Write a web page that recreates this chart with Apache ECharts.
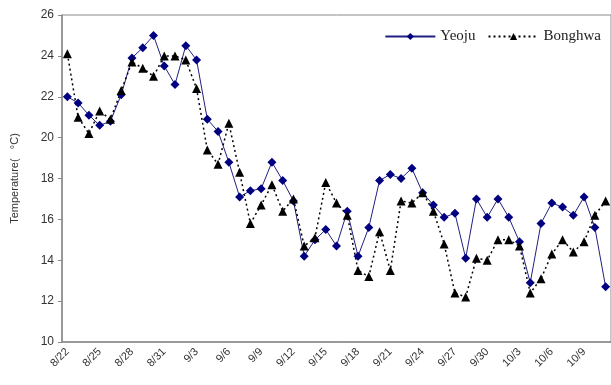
<!DOCTYPE html>
<html><head><meta charset="utf-8">
<script src="https://cdn.jsdelivr.net/npm/echarts@6/dist/echarts.min.js"></script>
<style>html,body{margin:0;padding:0;background:#fff}#c{width:611px;height:385px}</style>
</head><body><div id="c"></div>
<script>
const dates = ["8/22","8/23","8/24","8/25","8/26","8/27","8/28","8/29","8/30","8/31",
"9/1","9/2","9/3","9/4","9/5","9/6","9/7","9/8","9/9","9/10","9/11","9/12","9/13","9/14","9/15",
"9/16","9/17","9/18","9/19","9/20","9/21","9/22","9/23","9/24","9/25","9/26","9/27","9/28","9/29","9/30",
"10/1","10/2","10/3","10/4","10/5","10/6","10/7","10/8","10/9","10/10","10/11"];
const yeoju = [22.0,21.7,21.1,20.6,20.8,22.1,23.9,24.4,25.0,23.5,
22.6,24.5,23.8,20.9,20.3,18.8,17.1,17.4,17.5,18.8,17.9,16.9,14.2,15.0,15.5,
14.7,16.4,14.2,15.6,17.9,18.2,18.0,18.5,17.3,16.7,16.1,16.3,14.1,17.0,16.1,
17.0,16.1,14.9,12.9,15.8,16.8,16.6,16.2,17.1,15.6,12.7];
const bonghwa = [24.1,21.0,20.2,21.3,20.9,22.3,23.7,23.4,23.0,24.0,
24.0,23.8,22.4,19.4,18.7,20.7,18.3,15.8,16.7,17.7,16.4,17.0,14.7,15.1,17.8,
16.8,16.2,13.5,13.2,15.4,13.5,16.9,16.8,17.3,16.4,14.8,12.4,12.2,14.1,14.0,
15.0,15.0,14.7,12.4,13.1,14.3,15.0,14.4,14.9,16.2,16.9];
const yTicks = {min:10, max:26, step:2};

const chart = echarts.init(document.getElementById('c'), null, {renderer:'canvas'});
chart.setOption({
  animation:false,
  backgroundColor:'#fff',
  grid:{left:62, top:15, right:-3, bottom:43, show:true, borderColor:'#8a8a8a', borderWidth:1, backgroundColor:'transparent'},
  legend:{
    top:24, right:5, itemWidth:50, itemHeight:9, itemGap:12,
    textStyle:{fontFamily:'Liberation Serif', fontSize:15, color:'#222'},
    data:['Yeoju','Bonghwa']
  },
  xAxis:{
    type:'category', data:dates, boundaryGap:true,
    axisLine:{lineStyle:{color:'#8a8a8a', width:1.5}},
    axisTick:{inside:true, length:4, interval:0, lineStyle:{color:'#8a8a8a'}},
    axisLabel:{interval:2, rotate:45, fontFamily:'Liberation Sans', fontSize:11, color:'#333', margin:8}
  },
  yAxis:{
    type:'value', min:yTicks.min, max:yTicks.max, interval:yTicks.step,
    name:'Temperature(   \u00B0C)', nameLocation:'middle', nameGap:42,
    nameTextStyle:{fontFamily:'Liberation Sans', fontSize:11, color:'#333'},
    axisLine:{show:true, lineStyle:{color:'#8a8a8a', width:1.5}},
    axisTick:{show:true, length:4, lineStyle:{color:'#8a8a8a'}},
    splitLine:{show:false},
    axisLabel:{fontFamily:'Liberation Sans', fontSize:12, color:'#333', margin:8}
  },
  series:[
    {name:'Yeoju', type:'line', data:yeoju, symbol:'diamond', symbolSize:9, showAllSymbol:true,
     itemStyle:{color:'#000080'}, lineStyle:{color:'#202080', width:1}},
    {name:'Bonghwa', type:'line', data:bonghwa, symbol:'triangle', symbolSize:9, showAllSymbol:true,
     itemStyle:{color:'#000'}, lineStyle:{color:'#000', width:1.5, type:[2,3]}}
  ]
});
</script></body></html>
